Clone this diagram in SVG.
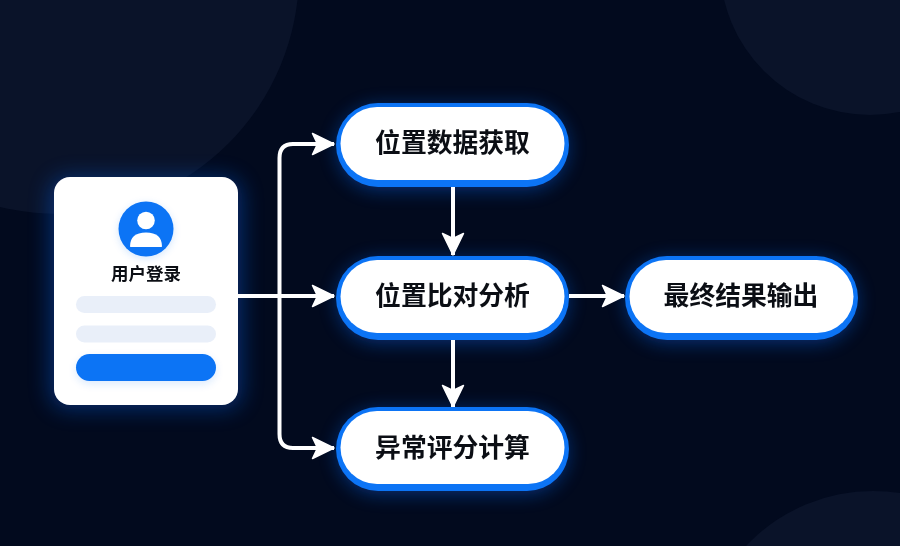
<svg xmlns="http://www.w3.org/2000/svg" width="900" height="546" viewBox="0 0 900 546">
<style>
.ring{fill:#0c74f5}
.fill{fill:#fff}
.lbl{font-family:"Noto Sans CJK SC","Noto Sans",sans-serif;font-size:25.8px;font-weight:700;fill:#0b0e14;text-anchor:middle}
.line{fill:none;stroke:#fff;stroke-width:4;stroke-linecap:butt;stroke-linejoin:round}
.bar{fill:#e9eff9}
</style>
<defs>
<filter id="glow" x="-30%" y="-50%" width="160%" height="200%"><feGaussianBlur stdDeviation="9"/></filter>
<filter id="glowc" x="-30%" y="-30%" width="160%" height="160%"><feGaussianBlur stdDeviation="11"/></filter>
<filter id="soft" x="-30%" y="-30%" width="160%" height="160%"><feGaussianBlur stdDeviation="4"/></filter>
<marker id="ah" markerUnits="userSpaceOnUse" markerWidth="26" markerHeight="26" refX="23" refY="12" orient="auto"><path d="M1.500 1.500 L23 12 L1.500 22.500 L6.500 12 Z" fill="#fff" stroke="#fff" stroke-width="1.500" stroke-linejoin="round"/></marker>
</defs>
<rect id="background" width="900" height="546" fill="#020a1e"/>
<g id="decor" fill="#0a1329">
<circle cx="58" cy="-27" r="241"/>
<circle cx="870" cy="-35" r="150"/>
<circle cx="873" cy="665" r="174"/>
</g>
<g id="glows" fill="#0a5fe0" opacity="0.42">
<rect x="50" y="177" width="192" height="232" rx="18" filter="url(#glowc)"/>
<rect x="336" y="105" width="233" height="86" rx="43" filter="url(#glow)"/>
<rect x="336" y="258" width="233" height="86" rx="43" filter="url(#glow)"/>
<rect x="336" y="409" width="233" height="86" rx="43" filter="url(#glow)"/>
<rect x="625" y="258" width="233" height="86" rx="43" filter="url(#glow)"/>
</g>
<g id="connectors">
<path class="line" d="M279.500 296V158Q279.500 144 293 144H334" marker-end="url(#ah)"/>
<path class="line" d="M279.500 296V434Q279.500 448 293 448H334" marker-end="url(#ah)"/>
<path class="line" d="M238 296H334" marker-end="url(#ah)"/>
<path class="line" d="M453 187V255" marker-end="url(#ah)"/>
<path class="line" d="M453 340V407" marker-end="url(#ah)"/>
<path class="line" d="M569 296H624" marker-end="url(#ah)"/>
</g>
<g id="login">
<rect x="54" y="177" width="184" height="228" rx="16" fill="#fff"/>
<circle cx="146" cy="231" r="27" fill="#0c74f5" opacity="0.2" filter="url(#soft)"/>
<circle cx="146" cy="229" r="27.500" fill="#0c74f5"/>
<circle cx="146" cy="220.500" r="8.800" fill="#fff"/>
<path d="M130 246.500Q130 232.500 146 232.500Q162 232.500 162 246.500Q162 247 160 247H132Q130 247 130 246.500Z" fill="#fff"/>
<text x="146" y="280" font-family="'Noto Sans CJK SC','Noto Sans',sans-serif" font-size="17.500" font-weight="700" fill="#0b0e14" text-anchor="middle">用户登录</text>
<rect class="bar" x="76" y="296" width="140" height="17" rx="8.500"/>
<rect class="bar" x="76" y="325.500" width="140" height="17" rx="8.500"/>
<rect x="76" y="357" width="140" height="27" rx="13.500" fill="#0c74f5" opacity="0.15" filter="url(#soft)"/>
<rect x="76" y="354" width="140" height="27" rx="13.500" fill="#0c74f5"/>
</g>
<g id="n1"><rect class="ring" x="336" y="103" width="233" height="84" rx="42"/><rect class="fill" x="340.500" y="107" width="224" height="73" rx="36.500"/><text class="lbl" x="452.500" y="152">位置数据获取</text></g>
<g id="n2"><rect class="ring" x="336" y="256" width="233" height="84" rx="42"/><rect class="fill" x="340.500" y="260" width="224" height="73" rx="36.500"/><text class="lbl" x="452.500" y="305">位置比对分析</text></g>
<g id="n3"><rect class="ring" x="336" y="407" width="233" height="84" rx="42"/><rect class="fill" x="340.500" y="411" width="224" height="73" rx="36.500"/><text class="lbl" x="452.500" y="456.500">异常评分计算</text></g>
<g id="n4"><rect class="ring" x="625" y="256" width="233" height="84" rx="42"/><rect class="fill" x="629.500" y="260" width="224" height="73" rx="36.500"/><text class="lbl" x="741" y="305">最终结果输出</text></g>
</svg>
